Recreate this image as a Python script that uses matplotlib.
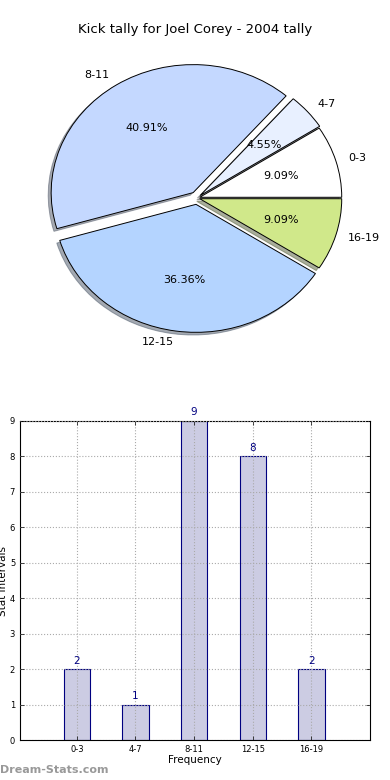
import matplotlib as mpl
import matplotlib.pyplot as plt

# data
labels = ['0-3', '4-7', '8-11', '12-15', '16-19']
counts = [2, 1, 9, 8, 2]
pie_colors = ['#ffffff', '#e8f0ff', '#c4d8ff', '#b4d4ff', '#d0e88a']
explode = [0.02, 0.03, 0.05, 0.05, 0.02]

mpl.rcParams['font.size'] = 8

fig = plt.figure(figsize=(3.9, 7.8), dpi=100)

# pie chart (stretched, not round, like the original)
rx, ry = 142., 128.
cx, cy = 197., 198.
ax1 = fig.add_axes([(cx-1.25*rx)/390., 1-(cy+1.25*ry)/780., 2.5*rx/390., 2.5*ry/780.])
wedges, texts, autotexts = ax1.pie(counts, labels=labels, colors=pie_colors, explode=explode,
                                    autopct='%.2f%%', startangle=0, labeldistance=1.09,
                                    shadow={'ox': -0.015, 'oy': -0.015, 'shade': 0.6},
                                    wedgeprops=dict(edgecolor='black', linewidth=0.7))
for t in texts + autotexts:
    t.set_fontsize(8)
ax1.set_aspect('auto')
ax1.set_xlim(-1.25, 1.25)
ax1.set_ylim(-1.25, 1.25)
fig.text(0.5, 1-30/780., 'Kick tally for Joel Corey - 2004 tally', ha='center', va='center', fontsize=9.5)

# bar chart
ax2 = fig.add_axes([20/390., 40/780., 350/390., 319/780.])
x = range(1, len(counts)+1)
ax2.bar(x, counts, width=0.45, color='#ccccE3', edgecolor='#000080', linewidth=0.8, zorder=1)
for xi, c in zip(x, counts):
    ax2.text(xi, c+0.1, str(c), ha='center', va='bottom', color='#000080', fontsize=7.5)
ax2.set_xlim(0.03, 6.0)
ax2.set_ylim(0, 9)
ax2.set_xticks(list(x))
ax2.set_xticklabels(labels, fontsize=6)
ax2.set_yticks(range(10))
ax2.tick_params(axis='y', labelsize=6)
ax2.tick_params(direction='in', top=True, right=True, length=3, width=0.5)
ax2.grid(True, linestyle=':', color='#aaaaaa', linewidth=0.8, zorder=2)
ax2.set_axisbelow(False)
ax2.set_xlabel('Frequency', fontsize=7.5, labelpad=1)
ax2.set_ylabel('Stat Intervals', fontsize=7.5, labelpad=1)

fig.text(0.0, 1-770/780., 'Dream-Stats.com', ha='left', va='center', color='#999999', fontsize=8, fontweight='bold')

plt.savefig('out.png', dpi=100)
